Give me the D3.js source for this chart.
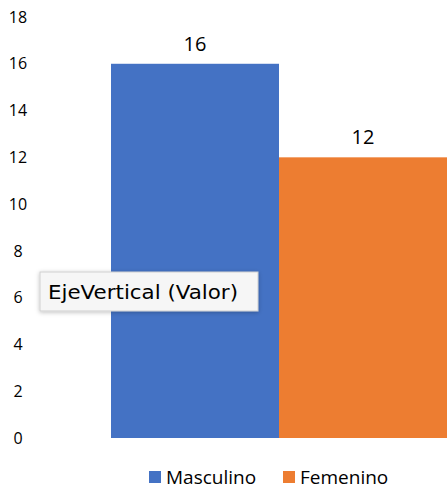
<!DOCTYPE html>
<html>
<head>
<meta charset="utf-8">
<script src="https://cdn.jsdelivr.net/npm/d3@7"></script>
<style>
  body { margin: 0; background: #fff; }
  svg { display: block; font-family: "Open Sans", "Noto Sans", sans-serif; }
</style>
</head>
<body>
<svg width="448" height="486"></svg>
<script>
// data
var categories = ["Masculino", "Femenino"];
var values = [16, 12];
var colours = ["#4472C4", "#ED7D31"];
var yTicks = [0, 2, 4, 6, 8, 10, 12, 14, 16, 18];

var svg = d3.select("svg"),
    width = +svg.attr("width"),
    height = +svg.attr("height");

var x = d3.scaleBand()
    .domain(categories)
    .range([111, 447])
    .paddingInner(0)
    .paddingOuter(0);

var y = d3.scaleLinear()
    .domain([0, 18])
    .range([438, 17]);

// y axis labels only (no line, no ticks)
var yAxis = svg.append("g")
    .attr("transform", "translate(26,0)")
    .call(d3.axisLeft(y).tickValues(yTicks).tickSize(0).tickPadding(0));
yAxis.select(".domain").remove();
yAxis.selectAll("text")
    .attr("text-anchor", "middle")
    .attr("x", -8)
    .style("font-size", "16px")
    .style("font-family", "'Open Sans', sans-serif")
    .style("fill", "#000");

// bars
svg.selectAll("rect.bar")
    .data(values)
    .enter()
    .append("rect")
      .attr("class", "bar")
      .attr("x", (d, i) => x(categories[i]))
      .attr("width", x.bandwidth())
      .attr("y", d => y(d))
      .attr("height", d => y(0) - y(d))
      .style("fill", (d, i) => colours[i]);

// value labels
svg.selectAll("text.val")
    .data(values)
    .enter()
    .append("text")
      .attr("class", "val")
      .attr("x", (d, i) => x(categories[i]) + x.bandwidth() / 2)
      .attr("y", d => y(d) - 13)
      .attr("text-anchor", "middle")
      .style("font-size", "20px")
      .text(d => d);

// legend
var legendX = [149, 283];
var legend = svg.selectAll("g.legend")
    .data(categories)
    .enter()
    .append("g")
      .attr("class", "legend")
      .attr("transform", (d, i) => "translate(" + legendX[i] + ",471)");
legend.append("rect")
    .attr("width", 12)
    .attr("height", 12)
    .style("fill", (d, i) => colours[i]);
legend.append("text")
    .attr("x", 17)
    .attr("y", 13)
    .style("font-size", "19px")
    .text(d => d);

// tooltip box
var defs = svg.append("defs");
var filter = defs.append("filter").attr("id", "shadow")
    .attr("x", "-10%").attr("y", "-20%").attr("width", "120%").attr("height", "150%");
filter.append("feDropShadow")
    .attr("dx", 0).attr("dy", 1).attr("stdDeviation", 2)
    .attr("flood-color", "#000").attr("flood-opacity", 0.25);

var tip = svg.append("g").attr("transform", "translate(40,272)");
tip.append("rect")
    .attr("width", 218)
    .attr("height", 39)
    .style("fill", "#f6f6f6")
    .style("stroke", "#cfcfcf")
    .style("filter", "url(#shadow)");
tip.append("text")
    .attr("x", 8)
    .attr("y", 27)
    .attr("textLength", 190)
    .attr("lengthAdjust", "spacingAndGlyphs")
    .style("font-size", "20px")
    .style("font-family", "'DejaVu Sans', sans-serif")
    .text("EjeVertical (Valor)");
</script>
</body>
</html>
